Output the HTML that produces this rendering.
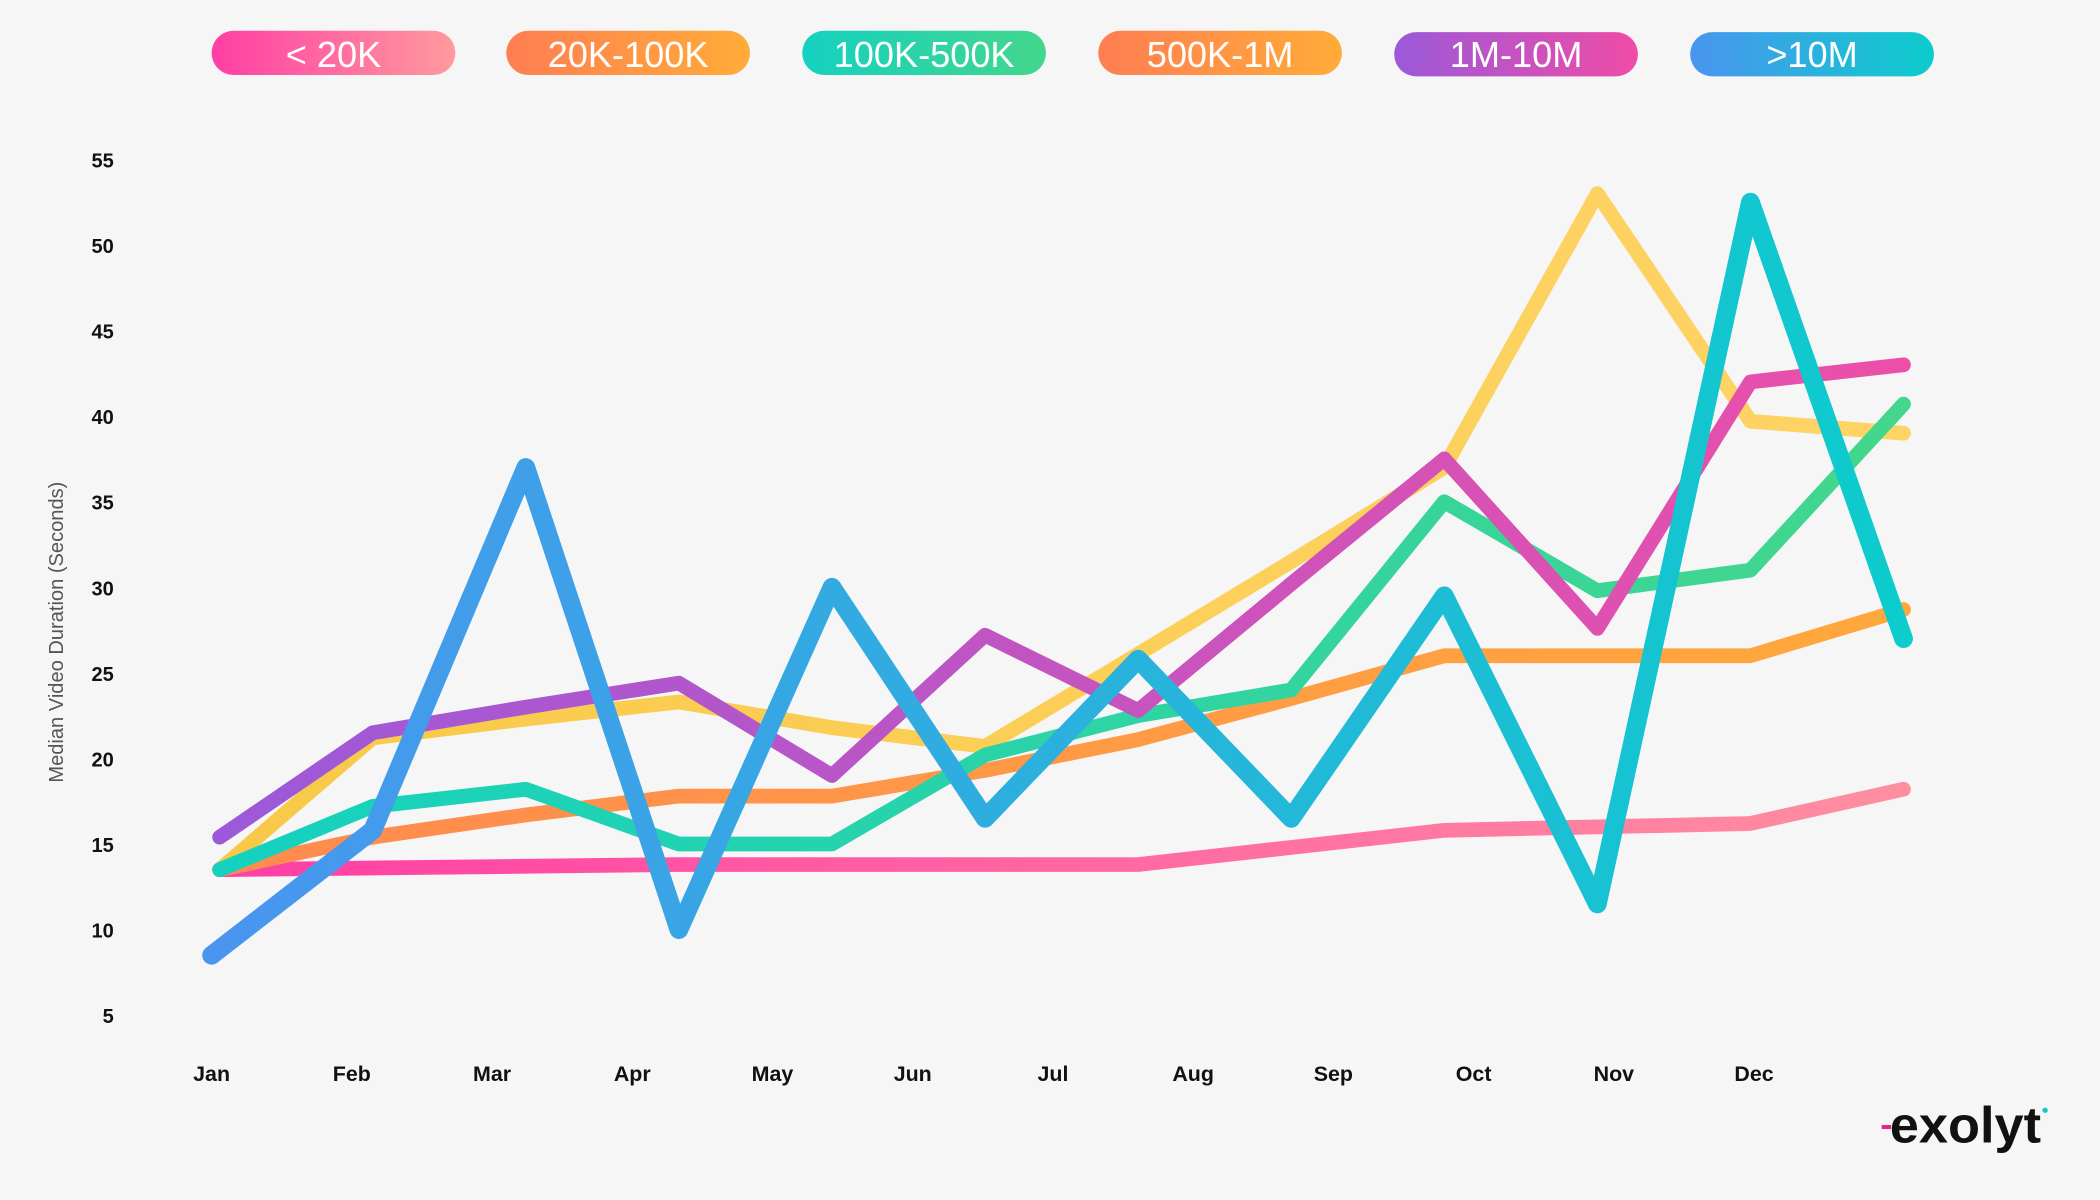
<!DOCTYPE html>
<html><head><meta charset="utf-8"><style>
html,body{margin:0;padding:0;background:#f6f6f6;}
svg{display:block;font-family:"Liberation Sans",sans-serif;}
</style></head><body>
<svg id="chart" width="2100" height="1200" viewBox="0 0 1568 896" xmlns="http://www.w3.org/2000/svg">
<defs>
<linearGradient id="g0" x1="0" x2="1"><stop offset="0" stop-color="#ff3ea5"/><stop offset="1" stop-color="#ff9a9c"/></linearGradient>
<linearGradient id="g1" x1="0" x2="1"><stop offset="0" stop-color="#ff7e52"/><stop offset="1" stop-color="#ffac38"/></linearGradient>
<linearGradient id="g2" x1="0" x2="1"><stop offset="0" stop-color="#14d1c0"/><stop offset="1" stop-color="#44d68c"/></linearGradient>
<linearGradient id="g3" x1="0" x2="1"><stop offset="0" stop-color="#ff7e52"/><stop offset="1" stop-color="#ffac38"/></linearGradient>
<linearGradient id="g4" x1="0" x2="1"><stop offset="0" stop-color="#9b59d9"/><stop offset="1" stop-color="#f04ca6"/></linearGradient>
<linearGradient id="g5" x1="0" x2="1"><stop offset="0" stop-color="#4a95ef"/><stop offset="1" stop-color="#0ccccc"/></linearGradient>
<linearGradient id="l0" gradientUnits="userSpaceOnUse" x1="160" x2="1425" y1="0" y2="0"><stop offset="0" stop-color="#ff3ea5"/><stop offset="1" stop-color="#ff8fa0"/></linearGradient>
<linearGradient id="l1" gradientUnits="userSpaceOnUse" x1="160" x2="1425" y1="0" y2="0"><stop offset="0" stop-color="#ff8a50"/><stop offset="1" stop-color="#ffa83c"/></linearGradient>
<linearGradient id="l2" gradientUnits="userSpaceOnUse" x1="160" x2="1425" y1="0" y2="0"><stop offset="0" stop-color="#14d1c0"/><stop offset="1" stop-color="#44d68c"/></linearGradient>
<linearGradient id="l3" gradientUnits="userSpaceOnUse" x1="160" x2="1425" y1="0" y2="0"><stop offset="0" stop-color="#f8c948"/><stop offset="1" stop-color="#ffd466"/></linearGradient>
<linearGradient id="l4" gradientUnits="userSpaceOnUse" x1="160" x2="1425" y1="0" y2="0"><stop offset="0" stop-color="#9b59d9"/><stop offset="1" stop-color="#ec4fa8"/></linearGradient>
<linearGradient id="l5" gradientUnits="userSpaceOnUse" x1="160" x2="1425" y1="0" y2="0"><stop offset="0" stop-color="#4a95ef"/><stop offset="1" stop-color="#0ccccc"/></linearGradient>
</defs>
<rect width="1568" height="896" fill="#f6f6f6"/>
<g id="legend"></g>
<g id="yaxis"></g>
<g id="xaxis"></g>
<text transform="translate(47,472) rotate(-90)" text-anchor="middle" font-size="15" fill="#555">Median Video Duration (Seconds)</text>
<g id="lines"></g>
<g>
<rect x="1405" y="840" width="7" height="3" fill="#e8248a"/>
<text x="1411" y="853" font-size="38" font-weight="bold" fill="#111" textLength="113" lengthAdjust="spacingAndGlyphs">exolyt</text>
<circle cx="1527" cy="829" r="2" fill="#14c7c7"/>
</g>
</svg>
<script>
const months = ["Jan","Feb","Mar","Apr","May","Jun","Jul","Aug","Sep","Oct","Nov","Dec"];
const yTicks = [5,10,15,20,25,30,35,40,45,50,55];
const seriesNames = ["< 20K","20K-100K","100K-500K","500K-1M","1M-10M",">10M"];
const s20k = [13.5,13.6,13.7,13.8,13.8,13.8,13.8,14.8,15.8,16.0,16.2,18.2];
const s100k = [13.5,15.4,16.7,17.8,17.8,19.3,21.1,23.5,26.0,26.0,26.0,28.7];
const s500k = [13.5,17.2,18.2,15.0,15.0,20.2,22.5,24.0,35.0,29.8,31.0,40.7];
const s1m = [13.5,21.2,22.3,23.3,21.8,20.7,26.1,31.5,37.0,53.0,39.7,39.0];
const s10m = [15.4,21.5,23.0,24.4,19.0,27.2,22.8,30.2,37.5,27.6,42.0,43.0];
const sBig = [8.5,15.8,37.0,10.0,30.0,16.5,25.8,16.5,29.5,11.5,52.5,27.0];

const NS="http://www.w3.org/2000/svg";
const y = v => 758 - (v-5)*12.78;
const x = i => 164 + i*114.3;
const xl = i => 158 + i*104.7;
function mk(tag, parent){const e=document.createElementNS(NS,tag);parent.appendChild(e);return e;}

const legendX=[158,378,599,820,1041,1262];
const lg=document.getElementById('legend');
seriesNames.forEach((n,i)=>{
  const r=mk('rect',lg);
  
  
  r.setAttribute('x',legendX[i]);r.setAttribute('y',i>=4?24:23);r.setAttribute('width',182);r.setAttribute('height',33);r.setAttribute('rx',16.5);r.setAttribute('fill','url(#g'+i+')');
  const t=mk('text',lg);
  
  
  t.setAttribute('x',legendX[i]+91);t.setAttribute('y',50);t.setAttribute('text-anchor','middle');t.setAttribute('font-size','27');t.setAttribute('fill','#fff');
  t.textContent=n;
});
const ya=document.getElementById('yaxis');
yTicks.forEach(v=>{
  const t=mk('text',ya);
  
  
  t.setAttribute('x',85);t.setAttribute('y',y(v)+6);t.setAttribute('text-anchor','end');t.setAttribute('font-size','15');t.setAttribute('font-weight','bold');t.setAttribute('fill','#111');
  t.textContent=v;
});
const xa=document.getElementById('xaxis');
months.forEach((m,i)=>{
  const t=mk('text',xa);
  
  
  t.setAttribute('x',xl(i));t.setAttribute('y',807);t.setAttribute('text-anchor','middle');t.setAttribute('font-size','16');t.setAttribute('font-weight','bold');t.setAttribute('fill','#111');
  t.textContent=m;
});
const all=[s20k,s100k,s500k,s1m,s10m,sBig];
const order=[3,0,1,2,4,5];
const widths=[11,11,11,11,11,14];
const lines=document.getElementById('lines');
order.forEach(k=>{
  const d=all[k];
  const p=mk('path',lines);
  
  
  p.setAttribute('d',d.map((v,i)=>(i?'L':'M')+(k===5&&i===0?x(i)-6:x(i))+','+y(v)).join(' '));
  p.setAttribute('fill','none');p.setAttribute('stroke','url(#l'+k+')');p.setAttribute('stroke-width',widths[k]);
  p.setAttribute('stroke-linejoin','round');p.setAttribute('stroke-linecap','round');
});
</script>
</body></html>
